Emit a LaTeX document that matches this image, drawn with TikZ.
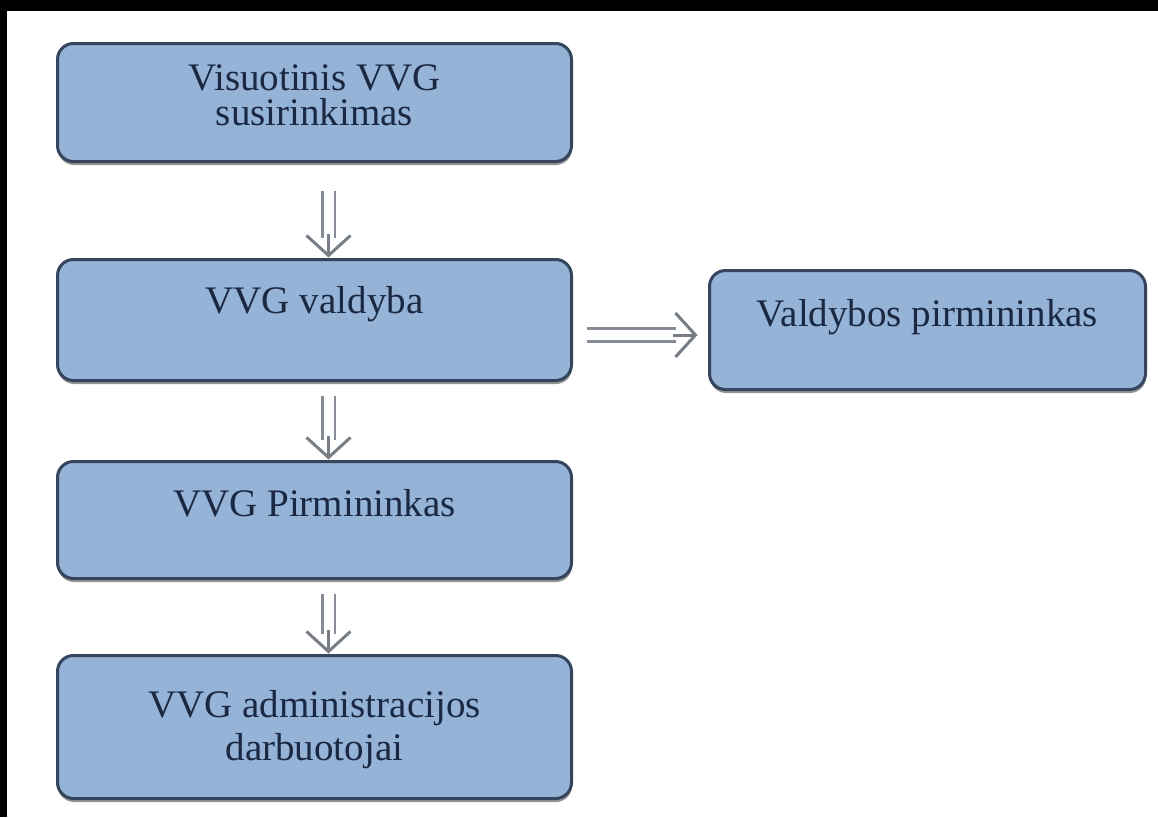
\documentclass[tikz,border=0pt]{standalone}
\usepackage{fontspec}
\setmainfont{Liberation Serif}
\usetikzlibrary{arrows.meta,shadows,calc}
\definecolor{boxfill}{HTML}{95B3D7}
\definecolor{boxline}{HTML}{35455E}
\definecolor{txt}{HTML}{1A2842}
\definecolor{arrgray}{HTML}{858C95}
\tikzset{
  box/.style={draw=boxline, fill=boxfill, line width=3pt, rounded corners=16pt,
    minimum width=514pt, inner sep=0pt, outer sep=0pt,
    drop shadow={shadow xshift=0.5pt, shadow yshift=-3.5pt, fill=black!70, opacity=0.6}},
  lbl/.style={text=txt, font=\fontsize{39}{31}\selectfont, align=center, anchor=base, inner sep=0pt},
  shaft/.style={draw=arrgray, line width=2.6pt, double=white, double distance=10pt},
  chev/.style={draw=arrgray!90!black, line width=3pt, -{Straight Barb[length=20pt, width=44pt, line width=3pt]}},
}
\begin{document}
\begin{tikzpicture}[x=1pt, y=-1pt]
\useasboundingbox (0,0) rectangle (1158,817);
\fill[white] (0,0) rectangle (1158,817);
\fill[black] (0,0) rectangle (1158,11);
\fill[black] (0,0) rectangle (7,817);

\node[box, minimum height=118pt] (b1) at (314.5,102.5) {};
\node[box, minimum height=121pt] (b2) at (314.5,320) {};
\node[box, minimum height=117pt] (b3) at (314.5,520) {};
\node[box, minimum height=143pt] (b4) at (314.5,727) {};
\node[box, minimum width=436pt, minimum height=119pt] (r) at (927.5,330) {};

\node[lbl] (t1) at (314.5,125) {Visuotinis VVG\\[4pt]susirinkimas};
\node[lbl] (t2) at (314.5,313) {VVG valdyba};
\node[lbl] (t3) at (314.5,516) {VVG Pirmininkas};
\node[lbl, font=\fontsize{39}{43}\selectfont] (t4) at (314.5,760) {VVG administracijos\\darbuotojai};
\node[lbl] (tr) at (927.5,326) {Valdybos pirmininkas};

% vertical arrows
\draw[shaft, shorten <=29pt, shorten >=22pt] ([xshift=14pt]b1.south) -- ([xshift=14pt]b2.north);
\draw[chev, shorten <=72pt, shorten >=2pt] ([xshift=14pt]b1.south) -- ([xshift=14pt]b2.north);
\draw[shaft, shorten <=15pt, shorten >=22pt] ([xshift=14pt]b2.south) -- ([xshift=14pt]b3.north);
\draw[chev, shorten <=55pt, shorten >=2pt] ([xshift=14pt]b2.south) -- ([xshift=14pt]b3.north);
\draw[shaft, shorten <=15pt, shorten >=22pt] ([xshift=14pt]b3.south) -- ([xshift=14pt]b4.north);
\draw[chev, shorten <=51pt, shorten >=2pt] ([xshift=14pt]b3.south) -- ([xshift=14pt]b4.north);

% horizontal arrow
\coordinate (hy) at (0,335);
\draw[shaft, shorten <=15pt, shorten >=34pt] (b2.east |- hy) -- (r.west |- hy);
\draw[chev, shorten <=101pt, shorten >=12pt] (b2.east |- hy) -- (r.west |- hy);
\end{tikzpicture}
\end{document}
